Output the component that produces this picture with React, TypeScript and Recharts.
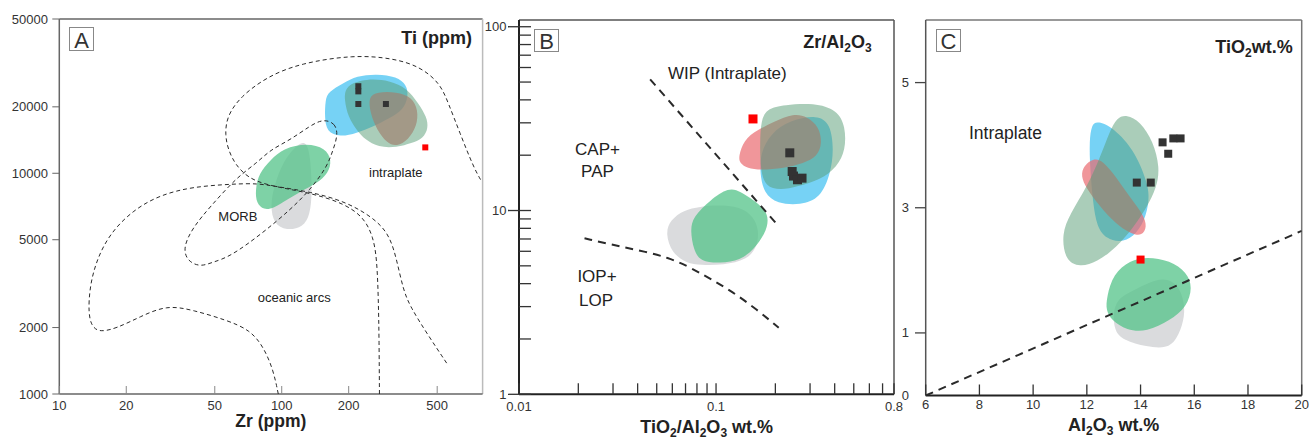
import React from 'react';
import { ScatterChart, Scatter, XAxis, YAxis, ReferenceLine } from 'recharts';

const FONT = '"Liberation Sans", Arial, Helvetica, sans-serif';

type Pair = [number, number];

// ---------------- Panel A : Ti (ppm) vs Zr (ppm) ----------------
const A_X_TICKS = [10, 20, 50, 100, 200, 500];
const A_Y_TICKS = [1000, 2000, 5000, 10000, 20000, 50000];
const A_BLUE: Pair[] = [[157, 21500], [162, 23400], [189, 25600], [217, 27600], [268, 28200], [329, 27400], [365, 25100], [371, 22200], [352, 19400], [307, 17800], [258, 16300], [217, 15200], [183, 14600], [159, 15400], [156, 18000]];
const A_RED: Pair[] = [[245, 22200], [268, 23400], [329, 23400], [384, 22200], [411, 19400], [405, 16300], [371, 14200], [329, 13200], [297, 13700], [268, 15700], [250, 18700]];
const A_SAGE: Pair[] = [[193, 25100], [241, 26900], [307, 26300], [365, 24300], [411, 20800], [449, 18000], [456, 16000], [433, 14400], [384, 13700], [329, 13100], [272, 13100], [237, 14200], [217, 15700], [199, 18000], [191, 21500]];
const A_GREY: Pair[] = [[119, 13700], [130, 13900], [135, 11500], [137, 8100], [134, 6500], [125, 5700], [105, 5500], [92, 5900], [89, 7100], [92, 8700], [102, 11500]];
const A_GREEN: Pair[] = [[102, 13000], [130, 13700], [157, 13000], [168, 11500], [162, 10000], [144, 9000], [121, 8250], [105, 7570], [92, 6940], [83, 6820], [77, 7300], [76, 8400], [79, 10000], [89, 11500]];
const A_SAMPLES: Pair[] = [[221, 24800], [221, 23500], [221, 20600], [294, 20600]];
const A_RED_SAMPLE: Pair[] = [[442, 13100]];
const A_INTRAPLATE_FIELD: Pair[] = [[275, 1000], [274, 1760], [272, 2670], [268, 4050], [258, 5160], [233, 6360], [189, 7310], [144, 7980], [113, 8400], [86, 8850], [71, 9490], [62, 10900], [57.5, 12750], [55.6, 14900], [56.6, 18050], [65, 22200], [86, 27400], [121, 31500], [210, 34400], [318, 33200], [419, 30400], [515, 25600], [561, 20800], [633, 15200], [727, 10700], [785, 9320]];
const A_OCEANIC_FIELD: Pair[] = [[96.5, 1000], [91.7, 1285], [82.7, 1640], [72, 1950], [56.6, 2160], [40, 2400], [30.4, 2530], [23.1, 2240], [18.1, 1985], [15.2, 1904], [14.0, 2018], [13.5, 2322], [13.7, 3064], [14.7, 4048], [16.9, 5350], [21.5, 6820], [28.4, 7980], [40, 8700], [60.6, 8940], [77.2, 9010], [95, 8700], [134, 8250], [196, 7430], [267.5, 6140], [307, 5160], [329, 4048], [352, 2960], [378, 2490], [449, 1884], [552, 1378]];
const A_MORB_FIELD: Pair[] = [[153, 17600], [174, 16900], [179, 14900], [170, 12750], [160, 10700], [134, 8400], [109, 6820], [82, 5360], [58.5, 4180], [49, 3960], [43, 3760], [37.5, 4010], [36, 4630], [40, 5710], [47.6, 7040], [63, 9620], [77.4, 11140], [88.6, 12750], [109, 14150], [134, 16400]];

// ---------------- Panel B : Zr/Al2O3 vs TiO2/Al2O3 ----------------
const B_X_TICKS = [0.01, 0.02, 0.03, 0.04, 0.05, 0.06, 0.07, 0.08, 0.09, 0.1, 0.2, 0.3, 0.4, 0.5, 0.6, 0.7, 0.8];
const B_X_LABELS = [0.01, 0.1, 0.8];
const B_Y_TICKS = [1, 2, 3, 4, 5, 6, 7, 8, 9, 10, 20, 30, 40, 50, 60, 70, 80, 90, 100];
const B_Y_LABELS = [1, 10, 100];
const B_BLUE: Pair[] = [[0.168, 20.5], [0.189, 26.3], [0.239, 31.1], [0.326, 33.1], [0.381, 29.8], [0.396, 21.3], [0.381, 15.9], [0.339, 11.65], [0.268, 10.7], [0.204, 10.9], [0.175, 12.4], [0.167, 15.9]];
const B_RED: Pair[] = [[0.130, 19.6], [0.138, 24.2], [0.162, 27.4], [0.196, 30.4], [0.248, 33.8], [0.290, 32.4], [0.333, 28.6], [0.346, 23.2], [0.326, 19.6], [0.279, 18.1], [0.221, 17.0], [0.168, 16.6], [0.144, 17.0], [0.132, 18.1]];
const B_SAGE: Pair[] = [[0.182, 36.0], [0.221, 37.5], [0.314, 38.6], [0.412, 35.2], [0.454, 28.6], [0.454, 21.3], [0.412, 17.3], [0.339, 14.7], [0.258, 13.5], [0.212, 12.9], [0.178, 13.5], [0.168, 16.6], [0.167, 23.2], [0.169, 31.1]];
const B_GREY: Pair[] = [[0.0553, 7.52], [0.0586, 8.88], [0.0684, 10.06], [0.0832, 10.5], [0.1012, 10.7], [0.133, 10.5], [0.155, 9.25], [0.165, 7.83], [0.162, 6.36], [0.144, 5.38], [0.109, 5.05], [0.0832, 5.05], [0.0712, 5.16], [0.0597, 5.85]];
const B_GREEN: Pair[] = [[0.0935, 11.4], [0.116, 13.4], [0.133, 12.7], [0.155, 11.4], [0.178, 10.06], [0.185, 8.88], [0.178, 7.52], [0.155, 6.10], [0.133, 5.38], [0.105, 5.16], [0.0832, 5.27], [0.0769, 6.10], [0.074, 7.83], [0.0764, 9.25]];
const B_SAMPLES: Pair[] = [[0.2367, 20.6], [0.2434, 16.3], [0.2472, 15.4], [0.259, 14.7], [0.2731, 15.0]];
const B_RED_SAMPLE: Pair[] = [[0.154, 31.5]];
const B_WIP_LINE: Pair[] = [[0.0463, 51.7], [0.2002, 8.6]];
const B_IOP_LINE: Pair[] = [[0.0215, 7.06], [0.0326, 6.36], [0.0586, 5.61], [0.0865, 4.46], [0.118, 3.69], [0.162, 2.88], [0.208, 2.30]];

// ---------------- Panel C : TiO2 vs Al2O3 ----------------
const C_X_TICKS = [6, 8, 10, 12, 14, 16, 18, 20];
const C_Y_TICKS = [0, 1, 3, 5];
const C_BLUE: Pair[] = [[12.37, 4.383], [12.86, 4.32], [13.73, 3.959], [14.29, 3.376], [14.32, 3.111], [14.16, 2.792], [13.73, 2.527], [13.23, 2.447], [12.74, 2.501], [12.37, 2.686], [12.22, 3.111], [12.12, 3.64], [12.09, 4.065], [12.18, 4.331]];
const C_RED: Pair[] = [[11.81, 3.64], [12.24, 3.80], [12.61, 3.747], [13.11, 3.481], [13.61, 3.163], [14.10, 2.899], [14.25, 2.686], [14.04, 2.554], [13.73, 2.57], [13.23, 2.686], [12.61, 2.951], [12.05, 3.27], [11.81, 3.456]];
const C_SAGE: Pair[] = [[13.48, 4.49], [13.98, 4.383], [14.47, 4.065], [14.72, 3.64], [14.60, 3.322], [14.23, 3.004], [13.73, 2.686], [13.11, 2.368], [12.37, 2.129], [11.74, 2.049], [11.19, 2.156], [11.06, 2.581], [11.37, 2.899], [11.99, 3.322], [12.49, 3.80], [12.86, 4.224], [13.11, 4.436]];
const C_GREY: Pair[] = [[14.85, 1.881], [15.40, 1.785], [15.65, 1.467], [15.62, 1.201], [15.34, 0.883], [14.97, 0.751], [14.23, 0.776], [13.36, 0.883], [12.98, 1.042], [12.98, 1.519], [13.73, 1.679], [14.35, 1.811]];
const C_GREEN: Pair[] = [[12.74, 1.572], [12.98, 1.944], [13.61, 2.156], [14.23, 2.22], [15.10, 2.156], [15.72, 1.97], [15.94, 1.731], [15.72, 1.413], [15.10, 1.201], [14.23, 1.015], [13.48, 1.042], [12.92, 1.201], [12.71, 1.36]];
const C_SAMPLES: Pair[] = [[14.82, 4.045], [15.22, 4.108], [15.49, 4.108], [15.03, 3.863], [13.86, 3.402], [14.38, 3.402]];
const C_RED_SAMPLE: Pair[] = [[14.0, 2.172]];
const C_LINE: Pair[] = [[6, 0], [20, 2.63]];

// ---------------- styling ----------------
const COL = {
  blue: '#54c7f2',
  red: '#e9696f',
  sage: '#559b73',
  grey: '#d6d7d9',
  green: '#53c388',
  sample: '#333333',
  redSample: '#ff0000',
};

const pts = (a: Pair[]) => a.map(([x, y]) => ({ x, y }));
const noShape = () => <g />;

function blob(key: string, data: Pair[], fill: string, op: number) {
  return (
    <Scatter
      key={key}
      data={pts(data)}
      line={{ fill, fillOpacity: op, stroke: 'none' }}
      lineJointType="basisClosed"
      shape={noShape}
      isAnimationActive={false}
    />
  );
}

function dashed(key: string, data: Pair[], sw: number, dash: string, type: any) {
  return (
    <Scatter
      key={key}
      data={pts(data)}
      line={{ stroke: '#2a2a2a', strokeWidth: sw, strokeDasharray: dash, fill: 'none' }}
      lineJointType={type}
      shape={noShape}
      isAnimationActive={false}
    />
  );
}

function squares(key: string, data: Pair[], fill: string, size: number) {
  return (
    <Scatter
      key={key}
      data={pts(data)}
      fill={fill}
      shape={(p: any) => <rect x={p.cx - size / 2} y={p.cy - size / 2} width={size} height={size} fill={fill} />}
      isAnimationActive={false}
    />
  );
}

const xTick = (o: { len: number; color: string; sw: number; labels: number[]; dy: number }) => (props: any) => {
  const { x, y, payload } = props;
  const v = payload.value as number;
  const isLabel = o.labels.includes(v);
  return (
    <g>
      <line x1={x} x2={x} y1={y} y2={y - o.len} stroke={o.color} strokeWidth={o.sw} />
      {isLabel && (
        <text x={x} y={y + o.dy} textAnchor="middle" fontFamily={FONT} fontSize={13} fill="#333">
          {String(v)}
        </text>
      )}
    </g>
  );
};

const yTick = (o: { out: number; inn: number; minorIn: number; color: string; sw: number; labels: number[]; dx: number; dy: number; noLine?: number[] }) => (props: any) => {
  const { x, y, payload } = props;
  const v = payload.value as number;
  const isLabel = o.labels.includes(v);
  const x1 = isLabel ? x - o.out : x;
  const x2 = isLabel ? x + o.inn : x + o.minorIn;
  const drawLine = !(o.noLine && o.noLine.includes(v)) && x2 > x1;
  return (
    <g>
      {drawLine && <line x1={x1} x2={x2} y1={y} y2={y} stroke={o.color} strokeWidth={o.sw} />}
      {isLabel && (
        <text x={x + o.dx} y={y + o.dy} textAnchor="end" fontFamily={FONT} fontSize={13} fill="#333">
          {String(v)}
        </text>
      )}
    </g>
  );
};

function PanelA() {
  return (
    <ScatterChart width={490} height={439} margin={{ top: 19, right: 7.4, bottom: 15, left: 0 }}>
      <XAxis
        type="number" dataKey="x" scale="log" domain={[10, 800]} allowDataOverflow
        ticks={A_X_TICKS} interval={0} height={30} tickSize={0} tickMargin={0} tickLine={false}
        axisLine={{ stroke: '#666', strokeWidth: 1.5 }}
        tick={xTick({ len: 8, color: '#888', sw: 1, labels: A_X_TICKS, dy: 16.2 })}
      />
      <YAxis
        type="number" dataKey="y" scale="log" domain={[1000, 50000]} allowDataOverflow
        ticks={A_Y_TICKS} interval={0} width={59.3} tickSize={0} tickMargin={0} tickLine={false}
        axisLine={{ stroke: '#666', strokeWidth: 1.5 }}
        tick={yTick({ out: 7, inn: 0, minorIn: 0, color: '#666', sw: 1, labels: A_Y_TICKS, dx: -11.3, dy: 4.5 })}
      />
      <ReferenceLine y={50000} stroke="#666" strokeWidth={1.5} />
      <ReferenceLine x={800} stroke="#bbb" strokeWidth={1.5} />
      {blob('ag', A_GREY, COL.grey, 0.9)}
      {blob('agr', A_GREEN, COL.green, 0.75)}
      {blob('ab', A_BLUE, COL.blue, 0.8)}
      {blob('ar', A_RED, COL.red, 0.7)}
      {blob('as', A_SAGE, COL.sage, 0.5)}
      {dashed('l1', A_INTRAPLATE_FIELD, 1, '4 3', 'basis')}
      {dashed('l2', A_OCEANIC_FIELD, 1, '4 3', 'basis')}
      {dashed('l3', A_MORB_FIELD, 1, '4 3', 'basisClosed')}
      {squares('ak', A_SAMPLES, COL.sample, 6)}
      {squares('akr', A_RED_SAMPLE, COL.redSample, 6)}
    </ScatterChart>
  );
}

function PanelB() {
  return (
    <ScatterChart width={440} height={439} margin={{ top: 20, right: 16, bottom: 14.7, left: 0 }}>
      <XAxis
        type="number" dataKey="x" scale="log" domain={[0.01, 0.8]} allowDataOverflow
        ticks={B_X_TICKS} interval={0} height={30} tickSize={0} tickMargin={0} tickLine={false}
        axisLine={{ stroke: '#222', strokeWidth: 2 }}
        tick={xTick({ len: 11, color: '#333', sw: 1.3, labels: B_X_LABELS, dy: 16.4 })}
      />
      <YAxis
        type="number" dataKey="y" scale="log" domain={[1, 108.8]} allowDataOverflow
        ticks={B_Y_TICKS} interval={0} width={49} tickSize={0} tickMargin={0} tickLine={false}
        axisLine={{ stroke: '#222', strokeWidth: 2 }}
        tick={yTick({ out: 11, inn: 12, minorIn: 12, color: '#333', sw: 1.3, labels: B_Y_LABELS, dx: -12.5, dy: 4.3 })}
      />
      <ReferenceLine y={108.8} stroke="#555" strokeWidth={1.5} />
      <ReferenceLine x={0.8} stroke="#555" strokeWidth={1.5} />
      {blob('bg', B_GREY, COL.grey, 0.9)}
      {blob('bgr', B_GREEN, COL.green, 0.75)}
      {blob('bb', B_BLUE, COL.blue, 0.8)}
      {blob('br', B_RED, COL.red, 0.7)}
      {blob('bs', B_SAGE, COL.sage, 0.5)}
      {dashed('bl1', B_WIP_LINE, 2, '8 6', 'linear')}
      {dashed('bl2', B_IOP_LINE, 2, '8 6', 'basis')}
      {squares('bk', B_SAMPLES, COL.sample, 9)}
      {squares('bkr', B_RED_SAMPLE, COL.redSample, 9)}
    </ScatterChart>
  );
}

function PanelC() {
  return (
    <ScatterChart width={429} height={439} margin={{ top: 20, right: 7.3, bottom: 13.5, left: 0 }}>
      <XAxis
        type="number" dataKey="x" domain={[6, 20]} allowDataOverflow
        ticks={C_X_TICKS} interval={0} height={30} tickSize={0} tickMargin={0} tickLine={false}
        axisLine={{ stroke: '#222', strokeWidth: 2 }}
        tick={xTick({ len: 11, color: '#333', sw: 1.3, labels: C_X_TICKS, dy: 13.8 })}
      />
      <YAxis
        type="number" dataKey="y" domain={[0, 6]} allowDataOverflow
        ticks={C_Y_TICKS} interval={0} width={45.7} tickSize={0} tickMargin={0} tickLine={false}
        axisLine={{ stroke: '#555', strokeWidth: 1.5 }}
        tick={yTick({ out: 10.7, inn: 0, minorIn: 0, color: '#444', sw: 1.3, labels: C_Y_TICKS, dx: -16.7, dy: 4.5, noLine: [0] })}
      />
      <ReferenceLine y={6} stroke="#777" strokeWidth={1.5} />
      <ReferenceLine x={20} stroke="#777" strokeWidth={1.5} />
      {blob('cg', C_GREY, COL.grey, 0.9)}
      {blob('cgr', C_GREEN, COL.green, 0.75)}
      {blob('cb', C_BLUE, COL.blue, 0.8)}
      {blob('cr', C_RED, COL.red, 0.7)}
      {blob('cs', C_SAGE, COL.sage, 0.5)}
      {dashed('cl', C_LINE, 2, '8 6', 'linear')}
      {squares('ck', C_SAMPLES, COL.sample, 8)}
      {squares('ckr', C_RED_SAMPLE, COL.redSample, 8)}
    </ScatterChart>
  );
}

export default function App() {
  const t = { fontFamily: FONT, fill: '#222' } as const;
  return (
    <div style={{ position: 'absolute', left: 0, top: 0, width: 1309, height: 439, background: '#fff', overflow: 'hidden' }}>
      <div style={{ position: 'absolute', left: 0, top: 0 }}><PanelA /></div>
      <div style={{ position: 'absolute', left: 470, top: 0 }}><PanelB /></div>
      <div style={{ position: 'absolute', left: 880, top: 0 }}><PanelC /></div>
      <svg width={1309} height={439} style={{ position: 'absolute', left: 0, top: 0, pointerEvents: 'none' }}>
        {/* panel letters */}
        <rect x={69.5} y={27.5} width={24} height={23} fill="#fff" stroke="#888" strokeWidth={1} />
        <text x={81.5} y={48} textAnchor="middle" fontSize={22} {...t} fill="#333">A</text>
        <rect x={534.5} y={29.5} width={24} height={22} fill="#fff" stroke="#888" strokeWidth={1} />
        <text x={546.5} y={49} textAnchor="middle" fontSize={22} {...t} fill="#333">B</text>
        <rect x={936.5} y={29.5} width={24} height={22} fill="#fff" stroke="#888" strokeWidth={1} />
        <text x={948.5} y={49} textAnchor="middle" fontSize={22} {...t} fill="#333">C</text>

        {/* panel titles */}
        <text x={472} y={44.3} textAnchor="end" fontSize={18} fontWeight="bold" {...t}>Ti (ppm)</text>
        <text x={871.7} y={48.3} textAnchor="end" fontSize={18} fontWeight="bold" {...t}>
          Zr/Al<tspan dy={4} fontSize={12}>2</tspan><tspan dy={-4}>O</tspan><tspan dy={4} fontSize={12}>3</tspan>
        </text>
        <text x={1292.7} y={52.7} textAnchor="end" fontSize={18} fontWeight="bold" {...t}>
          TiO<tspan dy={4} fontSize={12}>2</tspan><tspan dy={-4}>wt.%</tspan>
        </text>

        {/* axis titles */}
        <text x={270.8} y={427} textAnchor="middle" fontSize={17.5} fontWeight="bold" {...t}>Zr (ppm)</text>
        <text x={706.7} y={433} textAnchor="middle" fontSize={18} fontWeight="bold" {...t}>
          TiO<tspan dy={4} fontSize={12}>2</tspan><tspan dy={-4}>/Al</tspan><tspan dy={4} fontSize={12}>2</tspan><tspan dy={-4}>O</tspan><tspan dy={4} fontSize={12}>3</tspan><tspan dy={-4}> wt.%</tspan>
        </text>
        <text x={1113.7} y={431} textAnchor="middle" fontSize={18} fontWeight="bold" {...t}>
          Al<tspan dy={4} fontSize={12}>2</tspan><tspan dy={-4}>O</tspan><tspan dy={4} fontSize={12}>3</tspan><tspan dy={-4}> wt.%</tspan>
        </text>

        {/* field labels, panel A */}
        <text x={369} y={177} fontSize={13} {...t}>intraplate</text>
        <text x={218.3} y={220.7} fontSize={13} {...t}>MORB</text>
        <text x={257.7} y={301.7} fontSize={13} {...t}>oceanic arcs</text>

        {/* field labels, panel B */}
        <text x={668} y={79.3} fontSize={17} {...t}>WIP (Intraplate)</text>
        <text x={597.5} y={155.3} textAnchor="middle" fontSize={17} {...t}>CAP+</text>
        <text x={597.5} y={176.7} textAnchor="middle" fontSize={17} {...t}>PAP</text>
        <text x={597} y={281.7} textAnchor="middle" fontSize={17} {...t}>IOP+</text>
        <text x={596} y={306} textAnchor="middle" fontSize={17} {...t}>LOP</text>

        {/* field label, panel C */}
        <text x={969} y={139.3} fontSize={17.5} {...t}>Intraplate</text>
      </svg>
    </div>
  );
}
